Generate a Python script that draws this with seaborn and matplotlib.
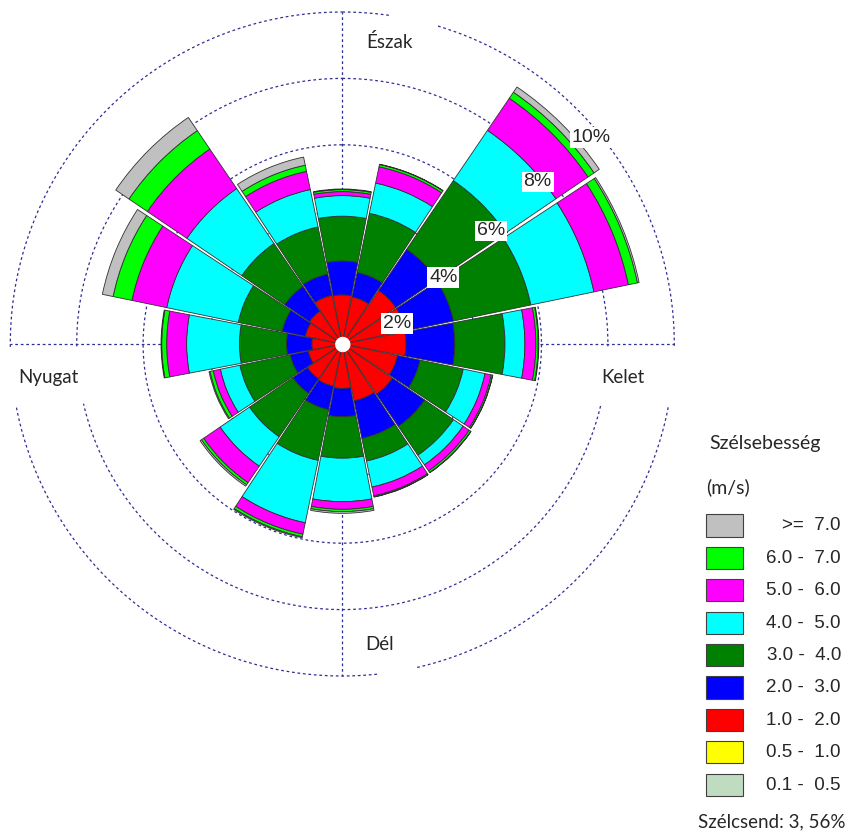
import numpy as np
import matplotlib
matplotlib.use("Agg")
import matplotlib.pyplot as plt
import seaborn as sns
from matplotlib.patches import Rectangle

# wind directions, N first, clockwise
directions = ["N", "NNE", "NE", "ENE", "E", "ESE", "SE", "SSE",
              "S", "SSW", "SW", "WSW", "W", "WNW", "NW", "NNW"]

# frequency (%) of each speed class in each direction
f_01_05 = [0.0] * 16
f_05_10 = [0.0] * 16
f_10_20 = [1.48, 1.45, 1.95, 1.95, 1.92, 1.70, 1.83, 1.75, 1.34, 1.30, 1.27, 1.05, 0.92, 1.14, 1.20, 1.50]
f_20_30 = [1.02, 0.75, 1.50, 1.47, 1.47, 0.69, 1.17, 1.15, 0.85, 0.72, 0.53, 0.55, 0.76, 0.71, 0.90, 0.65]
f_30_40 = [1.35, 1.82, 2.50, 2.38, 1.51, 1.33, 1.05, 0.70, 1.25, 1.56, 1.58, 1.55, 1.42, 1.35, 1.56, 1.45]
f_40_50 = [0.62, 0.93, 1.83, 1.94, 0.60, 0.67, 0.35, 0.80, 1.31, 1.92, 1.07, 0.60, 1.59, 2.20, 2.00, 1.15]
f_50_60 = [0.12, 0.50, 1.17, 1.06, 0.33, 0.19, 0.22, 0.27, 0.23, 0.35, 0.60, 0.22, 0.60, 1.07, 1.44, 0.56]
f_60_70 = [0.06, 0.07, 0.22, 0.28, 0.07, 0.04, 0.06, 0.03, 0.07, 0.08, 0.08, 0.10, 0.15, 0.58, 0.67, 0.19]
f_70_up = [0.02, 0.01, 0.19, 0.05, 0.02, 0.01, 0.01, 0.01, 0.05, 0.03, 0.05, 0.03, 0.02, 0.33, 0.48, 0.25]

class_labels = ["0.1 -  0.5", "0.5 -  1.0", "1.0 -  2.0", "2.0 -  3.0", "3.0 -  4.0",
                "4.0 -  5.0", "5.0 -  6.0", "6.0 -  7.0", ">=  7.0"]
class_colors = ["#c0dcc0", "#ffff00", "#ff0000", "#0000ff", "#008000",
                "#00ffff", "#ff00ff", "#00ff00", "#c0c0c0"]

ring_values = [2, 4, 6, 8, 10]
compass = ["Észak", "Kelet", "Dél", "Nyugat"]
calm_text = "Szélcsend: 3, 56%"

sns.set_style("white")
plt.rcParams["font.family"] = ["Liberation Sans", "DejaVu Sans"]
label_font = ["Lato", "DejaVu Sans"]

W, H = 848, 834
fig = plt.figure(figsize=(W / 100, H / 100), dpi=100)


def px(x, y):
    # pixel position (from top-left) to figure fraction
    return x / W, 1 - y / H


# polar axes placed so the centre sits at (342, 344) px, 1% = 33.2 px
cx, cy = 342.3, 344.0
scale = 33.2
rmax = 10.1
rad = rmax * scale
ax = fig.add_axes([(cx - rad) / W, (H - cy - rad) / H, 2 * rad / W, 2 * rad / H],
                  projection="polar")
ax.set_theta_zero_location("N")
ax.set_theta_direction(-1)
ax.set_ylim(0, rmax)
ax.axis("off")

grid_col = "#2e2e96"
dots = (0, (2.2, 2.2))

# rings, with gaps where the compass labels sit
ring_gaps = {10: [(8.3, 16.6), (90.5, 101), (167, 174), (259, 269.5)],
             8: [(90.5, 103.3), (257, 269.5)]}
for rv in ring_values:
    deg = np.linspace(0, 360, 1441)
    rr = np.full(deg.shape, float(rv))
    for a, b in ring_gaps.get(rv, []):
        rr[(deg > a) & (deg < b)] = np.nan
    ax.plot(np.deg2rad(deg), rr, color=grid_col, lw=0.9, ls=dots, zorder=1)
for az in [0, 90, 180, 270]:
    ax.plot([np.deg2rad(az)] * 2, [0, 10], color=grid_col, lw=0.9, ls=dots, zorder=1)

# stacked wedges
theta = np.deg2rad(np.arange(16) * 22.5)
series = [f_01_05, f_05_10, f_10_20, f_20_30, f_30_40, f_40_50, f_50_60, f_60_70, f_70_up]
bottom = np.zeros(16)
for vals, col in zip(series, class_colors):
    vals = np.array(vals)
    m = vals > 0
    if m.any():
        ax.bar(theta[m], vals[m], bottom=bottom[m], width=np.deg2rad(21.6),
               color=col, edgecolor="#303030", linewidth=0.6, zorder=3, align="center")
    bottom = bottom + vals

# white hole in the middle
circ = np.linspace(0, 2 * np.pi, 200)
ax.fill_between(circ, 0, 0.21, color="white", zorder=6)

# percentage labels along the NE/ENE gap
lab_pos = [(69.3, 1.76), (56.6, 3.64), (52.8, 5.63), (50.3, 7.65), (50.3, 9.73)]
for rv, (az, r) in zip(ring_values, lab_pos):
    ax.text(np.deg2rad(az), r, f"{rv}%", ha="center", va="center", fontsize=14,
            zorder=8, bbox=dict(facecolor="white", edgecolor="none", pad=1.2))

# compass labels
comp_px = [(390, 42), (623, 377), (380, 645), (48, 377)]
for name, (x, y) in zip(compass, comp_px):
    fig.text(*px(x, y), name, ha="center", va="center", fontsize=13.5, family=label_font)

# legend
fig.text(*px(709, 443), "Szélsebesség", ha="left", va="center", fontsize=14, family=label_font)
fig.text(*px(706, 487), "(m/s)", ha="left", va="center", fontsize=14, family=label_font)
for i, (lab, col) in enumerate(zip(class_labels[::-1], class_colors[::-1])):
    top = 514.3 + i * 32.4
    x0, y0 = px(706, top + 22.4)
    fig.add_artist(Rectangle((x0, y0), 37.3 / W, 22.4 / H, transform=fig.transFigure,
                             facecolor=col, edgecolor="#404040", linewidth=0.8))
    fig.text(*px(841, top + 11.5), lab, ha="right", va="center", fontsize=13.5)

fig.text(*px(845, 822), calm_text, ha="right", va="center", fontsize=13.5, family=label_font)

fig.savefig("out.png", dpi=100, facecolor="white")
